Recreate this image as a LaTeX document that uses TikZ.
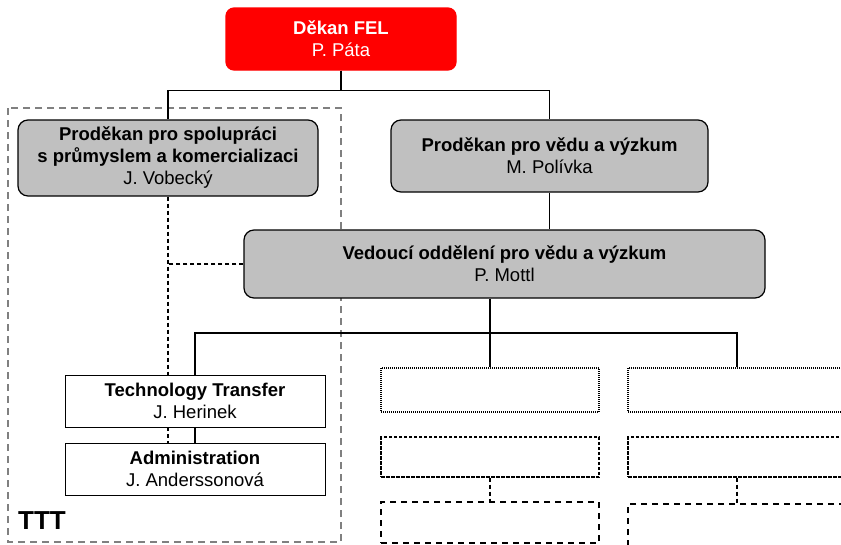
\documentclass[tikz,border=0pt]{standalone}
\usepackage{fontspec}
\setmainfont{Liberation Sans}
\definecolor{felred}{RGB}{255,0,0}
\definecolor{unitgray}{RGB}{192,192,192}
\definecolor{tttgray}{RGB}{128,128,128}
\tikzset{
  unit/.style={draw, line width=1.2pt, rounded corners=10pt, fill=unitgray,
    align=center, inner sep=0pt, font=\fontsize{18.5}{22}\selectfont},
  dekanbox/.style={unit, draw=felred, fill=felred, text=white, rounded corners=8pt},
  office/.style={unit, rounded corners=0pt, fill=white, line width=0.8pt},
  emptybox/.style={draw, line width=1.3pt, minimum width=218pt},
  link/.style={line width=1.2pt},
  dlink/.style={line width=1.2pt, dash pattern=on 4pt off 3pt}
}
\begin{document}
\begin{tikzpicture}[x=1pt,y=-1pt]
  \useasboundingbox (0,0) rectangle (841,544);
  \clip (0,0) rectangle (841,544);
  % TTT group
  \draw[tttgray, line width=1.2pt, dash pattern=on 7pt off 5pt] (8,108) rectangle (341,542);
  \node[anchor=base west, inner sep=0pt, font=\fontsize{26}{26}\selectfont\bfseries] (tttlabel) at (18,529) {TTT};
  % units
  \node[dekanbox, minimum width=230pt, minimum height=62pt] (dekan) at (341,39) {\textbf{Děkan FEL}\\P. Páta};
  \node[unit, minimum width=300pt, minimum height=76pt] (prodSpol) at (168,158)
    {\textbf{Proděkan pro spolupráci}\\\textbf{s průmyslem a komercializaci}\\J. Vobecký};
  \node[unit, minimum width=317pt, minimum height=72pt] (prodVeda) at (549.5,156)
    {\textbf{Proděkan pro vědu a výzkum}\\M. Polívka};
  \node[unit, minimum width=521pt, minimum height=68pt] (vedouci) at (504.5,264)
    {\textbf{Vedoucí oddělení pro vědu a výzkum}\\P. Mottl};
  \node[office, minimum width=260pt, minimum height=52pt] (techTr) at (195,401)
    {\textbf{Technology Transfer}\\J. Herinek};
  \node[office, minimum width=260pt, minimum height=52pt] (admin) at (195,469)
    {\textbf{Administration}\\J. Anderssonová};
  % empty offices
  \node[emptybox, dash pattern=on 1pt off 1pt, minimum height=44pt] (colA1) at (490,390) {};
  \node[emptybox, dash pattern=on 3.5pt off 1.5pt, minimum height=40pt] (colA2) at (490,457) {};
  \node[emptybox, dash pattern=on 6pt off 5pt, minimum height=41pt] (colA3) at (490,522.5) {};
  \node[emptybox, dash pattern=on 1pt off 1pt, minimum height=44pt] (colB1) at (737,390) {};
  \node[emptybox, dash pattern=on 3.5pt off 1.5pt, minimum height=40pt] (colB2) at (737,457) {};
  \node[emptybox, dash pattern=on 6pt off 5pt, minimum height=56pt] (colB3) at (737,532) {};
  % connectors
  \coordinate (bus) at (490,333);
  \draw[link] (dekan.south) -- ++(0,20) -| (prodSpol.north);
  \draw[link] (dekan.south) -- ++(0,20) -| (prodVeda.north);
  \draw[link] (prodVeda.south) -- (prodVeda.south |- vedouci.north);
  \draw[link] (vedouci.south -| bus) -- (bus);
  \draw[link] (techTr.north) |- (bus) -| (colB1.north);
  \draw[link] (bus) -- (colA1.north);
  \draw[link] (techTr.south) -- (admin.north);
  \draw[dlink] (prodSpol.south) -- (prodSpol.south |- techTr.north);
  \draw[dlink] (vedouci.west) -- (vedouci.west -| prodSpol.south);
  \draw[dlink] (prodSpol.south |- techTr.south) -- (prodSpol.south |- admin.north);
  \draw[dlink] (colA2.south) -- (colA3.north);
  \draw[dlink] (colB2.south) -- (colB3.north);
\end{tikzpicture}
\end{document}
